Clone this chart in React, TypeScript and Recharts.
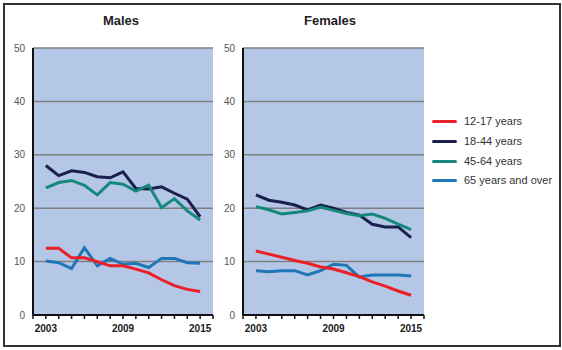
import React from 'react';
import { LineChart, Line, XAxis, YAxis, CartesianGrid } from 'recharts';

const years = [2003, 2004, 2005, 2006, 2007, 2008, 2009, 2010, 2011, 2012, 2013, 2014, 2015];
const xTicks = [2002, 2003, 2004, 2005, 2006, 2007, 2008, 2009, 2010, 2011, 2012, 2013, 2014, 2015, 2016];
const xLabelYears = [2003, 2009, 2015];
const yTicks = [0, 10, 20, 30, 40, 50];

const seriesNames = ['12-17 years', '18-44 years', '45-64 years', '65 years and over'];
const seriesColors = ['#ec1f27', '#1b1f4d', '#14897b', '#1f77b6'];

const males12_17 = [12.5, 12.5, 10.7, 10.7, 10.0, 9.2, 9.2, 8.6, 7.9, 6.6, 5.5, 4.8, 4.4];
const males18_44 = [28.0, 26.1, 27.0, 26.7, 25.9, 25.7, 26.8, 23.7, 23.6, 24.0, 22.8, 21.7, 18.4];
const males45_64 = [23.8, 24.8, 25.2, 24.3, 22.5, 24.8, 24.5, 23.2, 24.3, 20.1, 21.8, 19.5, 17.8];
const males65 = [10.1, 9.8, 8.7, 12.6, 9.2, 10.6, 9.5, 9.7, 8.9, 10.6, 10.6, 9.8, 9.7];

const females12_17 = [12.0, 11.4, 10.8, 10.2, 9.7, 9.0, 8.6, 7.9, 7.2, 6.2, 5.4, 4.5, 3.7];
const females18_44 = [22.5, 21.5, 21.1, 20.6, 19.7, 20.6, 20.0, 19.2, 18.7, 17.0, 16.5, 16.5, 14.5];
const females45_64 = [20.3, 19.7, 18.9, 19.2, 19.5, 20.2, 19.6, 19.0, 18.6, 18.9, 18.1, 17.0, 16.0];
const females65 = [8.3, 8.1, 8.3, 8.3, 7.5, 8.3, 9.5, 9.3, 7.1, 7.5, 7.5, 7.5, 7.3];

const build = (a: number[], b: number[], c: number[], d: number[]) =>
  years.map((y, i) => ({ year: y, s0: a[i], s1: b[i], s2: c[i], s3: d[i] }));

const malesData = build(males12_17, males18_44, males45_64, males65);
const femalesData = build(females12_17, females18_44, females45_64, females65);

const FONT = '"Liberation Sans", Arial, sans-serif';

const XTick = (props: any) => {
  const { x, y, payload } = props;
  if (!xLabelYears.includes(payload.value)) return <g />;
  return (
    <text x={x} y={y + 11} textAnchor="middle" fontSize={10} fontWeight="bold" fill="#1a1a1a" fontFamily={FONT}>
      {payload.value}
    </text>
  );
};

const Panel = ({ data, width, yWidth, marginRight }: { data: any[]; width: number; yWidth: number; marginRight: number }) => (
  <LineChart width={width} height={350} data={data} margin={{ top: 48, right: marginRight, bottom: 0, left: 0 }}>
    <CartesianGrid vertical={false} fill="#b4c7e7" stroke="#7f7f7f" strokeWidth={1.5} horizontalValues={yTicks} />
    <XAxis
      dataKey="year"
      type="number"
      domain={[2002, 2016]}
      ticks={xTicks}
      interval={0}
      height={35}
      axisLine={{ stroke: '#111', strokeWidth: 2 }}
      tickLine={{ stroke: '#111', strokeWidth: 1.5 }}
      tickSize={4}
      tickMargin={2}
      tick={<XTick />}
      allowDecimals={false}
    />
    <YAxis
      domain={[0, 50]}
      ticks={yTicks}
      width={yWidth}
      axisLine={{ stroke: '#111', strokeWidth: 2 }}
      tickLine={false}
      tick={{ fontSize: 10, fill: '#555', fontFamily: FONT }}
      interval={0}
    />
    {['s1', 's2', 's3', 's0'].map((k) => {
      const idx = Number(k.slice(1));
      return (
        <Line
          key={k}
          dataKey={k}
          stroke={seriesColors[idx]}
          strokeWidth={3}
          dot={false}
          isAnimationActive={false}
          type="linear"
        />
      );
    })}
  </LineChart>
);

export default function App() {
  return (
    <div style={{ position: 'absolute', left: 0, top: 0, width: 562, height: 350, background: '#fff', fontFamily: FONT }}>
      <div
        style={{
          position: 'absolute',
          left: 3,
          top: 3,
          width: 558,
          height: 344,
          boxSizing: 'border-box',
          border: '2px solid #333',
        }}
      />
      <div style={{ position: 'absolute', left: 0, top: 0 }}>
        <Panel data={malesData} width={216} yWidth={33} marginRight={3} />
      </div>
      <div style={{ position: 'absolute', left: 216, top: 0 }}>
        <Panel data={femalesData} width={214} yWidth={27} marginRight={6} />
      </div>
      <div style={{ position: 'absolute', left: 81, top: 13, width: 80, textAlign: 'center', fontSize: 13, fontWeight: 'bold', color: '#222' }}>
        Males
      </div>
      <div style={{ position: 'absolute', left: 290, top: 13, width: 80, textAlign: 'center', fontSize: 13, fontWeight: 'bold', color: '#222' }}>
        Females
      </div>
      {seriesNames.map((name, i) => (
        <div key={name} style={{ position: 'absolute', left: 432, top: [121, 141, 161, 180][i] - 7, height: 14, display: 'flex', alignItems: 'center' }}>
          <div style={{ width: 25, height: 3, background: seriesColors[i], borderRadius: 1.5 }} />
          <span style={{ marginLeft: 7, fontSize: 11, color: '#333', whiteSpace: 'nowrap' }}>{name}</span>
        </div>
      ))}
    </div>
  );
}
